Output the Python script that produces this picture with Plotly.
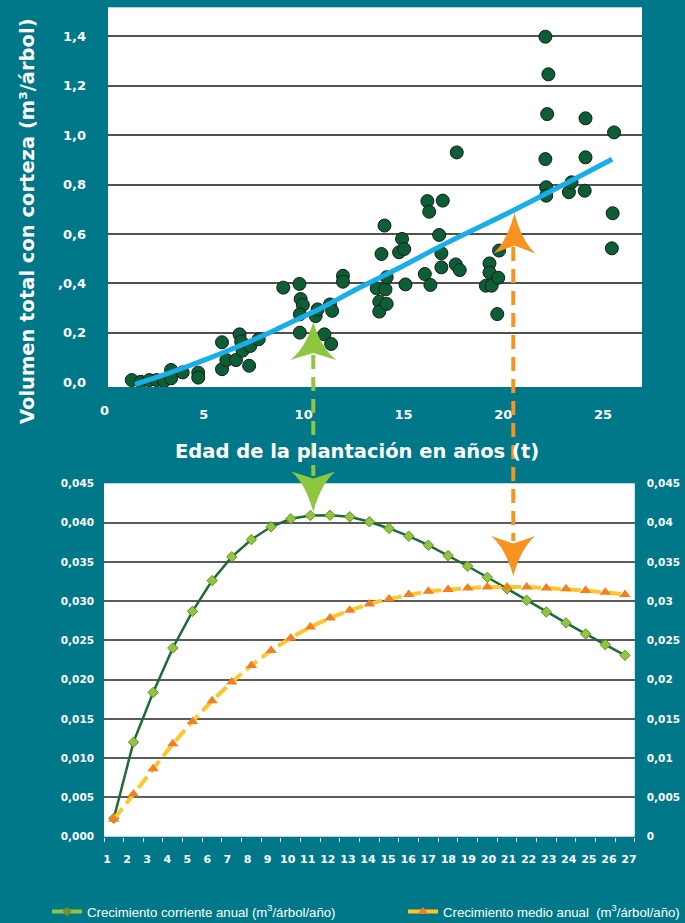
import plotly.graph_objects as go

W, H = 685, 923
BG = '#00788A'
WHITE = '#FFFFFF'
GRID = '#5C5C5C'
FONT_B = 'DejaVu Sans'

# ---------------- Top chart data (volume vs age) ----------------
edad = [1.39, 1.84, 2.27, 2.64, 3.01, 3.36, 3.36, 3.94, 4.72, 4.72,
        5.91, 5.91, 6.13, 6.61, 6.79, 6.87, 6.94, 7.27, 7.33, 7.75,
        8.98, 9.79, 9.85, 9.96, 9.81, 9.81, 10.60, 10.70, 11.04, 11.38,
        11.32, 11.43, 11.97, 11.97, 13.66, 13.79, 13.79, 13.90, 14.05, 14.10,
        14.16, 14.16, 14.78, 14.93, 15.04, 15.10, 16.07, 16.20, 16.29, 16.35,
        16.79, 16.90, 16.90, 16.97, 17.62, 17.67, 17.82, 19.13, 19.31, 19.31,
        19.42, 19.70, 19.75, 19.79, 22.11, 22.26, 22.20, 22.11, 22.15, 22.15,
        23.29, 23.42, 24.12, 24.12, 24.08, 25.55, 25.48, 25.44]
volumen = [0.009, 0.002, 0.009, 0.009, 0.005, 0.050, 0.016, 0.040, 0.039, 0.019,
           0.162, 0.053, 0.090, 0.090, 0.194, 0.165, 0.128, 0.067, 0.147, 0.174,
           0.383, 0.398, 0.337, 0.313, 0.275, 0.201, 0.268, 0.295, 0.194, 0.155,
           0.315, 0.289, 0.431, 0.407, 0.380, 0.326, 0.286, 0.519, 0.634, 0.376,
           0.425, 0.317, 0.526, 0.580, 0.539, 0.396, 0.438, 0.733, 0.690, 0.394,
           0.596, 0.522, 0.465, 0.735, 0.477, 0.930, 0.454, 0.391, 0.481, 0.444,
           0.391, 0.276, 0.423, 0.533, 1.398, 1.246, 1.085, 0.903, 0.789, 0.755,
           0.769, 0.809, 1.068, 0.910, 0.775, 1.011, 0.684, 0.542]
trend_x = [1.55, 3.0, 4.3, 5.5, 6.8, 8.0, 9.3, 11.0, 12.5, 14.6, 17.2, 20.5, 23.4, 25.45]
trend_y = [-0.008, 0.030, 0.068, 0.105, 0.148, 0.190, 0.240, 0.305, 0.370, 0.455, 0.565, 0.695, 0.815, 0.902]

top_xticks = [0, 5, 10, 15, 20, 25]
top_yticks = [0.0, 0.2, 0.4, 0.6, 0.8, 1.0, 1.2, 1.4]
top_ylabels = ['0,0', '0,2', ',0,4', '0,6', '0,8', '1,0', '1,2', '1,4']

# ---------------- Bottom chart data (growth) ----------------
anios = list(range(1, 28))
cca = [0.00235, 0.01204, 0.01837, 0.02403, 0.02870, 0.03261, 0.03564, 0.03784, 0.03946, 0.04048,
       0.04090, 0.04094, 0.04074, 0.04010, 0.03925, 0.03827, 0.03712, 0.03580, 0.03444, 0.03304,
       0.03156, 0.03010, 0.02862, 0.02722, 0.02582, 0.02445, 0.02309]
cma = [0.00222, 0.00545, 0.00864, 0.01182, 0.01467, 0.01731, 0.01969, 0.02181, 0.02372, 0.02531,
       0.02671, 0.02786, 0.02883, 0.02964, 0.03028, 0.03083, 0.03125, 0.03147, 0.03168, 0.03181,
       0.03181, 0.03181, 0.03168, 0.03156, 0.03134, 0.03112, 0.03083]
bot_yticks = [0, 0.005, 0.01, 0.015, 0.02, 0.025, 0.03, 0.035, 0.04, 0.045]
bot_left_labels = ['0,000', '0,005', '0,010', '0,015', '0,020', '0,025', '0,030', '0,035', '0,040', '0,045']
bot_right_labels = ['0', '0,005', '0,01', '0,015', '0,02', '0,025', '0,03', '0,035', '0,04', '0,045']

name_cca = 'Crecimiento corriente anual (m<sup>3</sup>/árbol/año)'
name_cma = 'Crecimiento medio anual \u00a0(m<sup>3</sup>/árbol/año)'

fig = go.Figure()

# top chart
fig.add_trace(go.Scatter(x=edad, y=volumen, mode='markers', xaxis='x', yaxis='y',
                         marker=dict(size=13, color='#0C5F34', line=dict(color='#1B1B1B', width=1)),
                         showlegend=False))
fig.add_trace(go.Scatter(x=trend_x, y=trend_y, mode='lines', xaxis='x', yaxis='y',
                         line=dict(color='#17AEE9', width=5, shape='spline'), showlegend=False))

# bottom chart
fig.add_trace(go.Scatter(x=anios, y=cma, mode='lines+markers', xaxis='x2', yaxis='y3',
                         line=dict(color='#FFC629', width=4, dash='14px,6px'),
                         marker=dict(symbol='triangle-up', size=10, color='#F47F20'),
                         showlegend=False))
fig.add_trace(go.Scatter(x=anios, y=cca, mode='lines+markers', xaxis='x2', yaxis='y2',
                         line=dict(color='#1C6A36', width=2.5),
                         marker=dict(symbol='diamond', size=8, color='#8DC63F',
                                     line=dict(color='#6E8B2A', width=1)),
                         showlegend=False))

# legend entries (also carry the category-label axis x3)
fig.add_trace(go.Scatter(x=[None], y=[None], mode='lines+markers', xaxis='x3', yaxis='y2',
                         name=name_cca, line=dict(color='#8DC63F', width=4), legend='legend',
                         marker=dict(symbol='diamond', size=7, color='#7A8F2A')))
fig.add_trace(go.Scatter(x=[None], y=[None], mode='lines+markers', xaxis='x3', yaxis='y2',
                         name=name_cma, line=dict(color='#FFC629', width=4), legend='legend2',
                         marker=dict(symbol='triangle-up', size=9, color='#F47F20')))

tick_font_top = dict(family=FONT_B, size=13, color=WHITE, weight='bold')
tick_font_bot = dict(family=FONT_B, size=10.5, color=WHITE, weight='bold')
legend_font = dict(family='Liberation Sans', size=13.2, color=WHITE)

fig.update_layout(
    width=W, height=H, autosize=False,
    margin=dict(l=0, r=0, t=0, b=0, autoexpand=False),
    paper_bgcolor=BG, plot_bgcolor=WHITE,
    xaxis=dict(domain=[108 / W, 642 / W], range=[0.2, 26.95], anchor='y',
               tickvals=top_xticks, ticktext=[str(v) for v in top_xticks],
               showgrid=False, zeroline=False, showline=False, ticks='',
               tickfont=tick_font_top, ticklabelstandoff=18),
    yaxis=dict(domain=[1 - 387 / H, 1 - 7.3 / H], range=[-0.019, 1.517], anchor='x',
               tickvals=top_yticks, ticktext=top_ylabels,
               showgrid=False, zeroline=False, showline=False, ticks='',
               tickfont=tick_font_top, ticklabelstandoff=21,
               minor=dict(tickvals=top_yticks[1:], showgrid=True, gridcolor='#505050',
                          gridwidth=1.6, ticks='')),
    xaxis2=dict(domain=[104 / W, 634.8 / W], range=[0.5, 27.5], anchor='y2',
                showticklabels=False,
                showgrid=False, zeroline=False, showline=False, ticks='',
                minor=dict(tick0=0.5, dtick=1, ticks='outside', ticklen=4,
                           tickcolor=WHITE, tickwidth=1, showgrid=False)),
    xaxis3=dict(domain=[104 / W, 634.8 / W], range=[0.851, 27.29], anchor='y2',
                overlaying='x2',
                tickvals=anios, ticktext=[str(a) for a in anios],
                showgrid=False, zeroline=False, showline=False, ticks='',
                tickfont=dict(family=FONT_B, size=11, color=WHITE, weight='bold'),
                ticklabelstandoff=14),
    yaxis2=dict(domain=[1 - 836.7 / H, 1 - 483.3 / H], range=[0, 0.045], anchor='x2',
                tickvals=bot_yticks, ticktext=bot_left_labels,
                showgrid=True, gridcolor=GRID, gridwidth=2, zeroline=False,
                showline=False, ticks='', tickfont=tick_font_bot, ticklabelstandoff=9),
    yaxis3=dict(range=[0, 0.045], overlaying='y2', side='right', anchor='x2',
                tickvals=bot_yticks, ticktext=bot_right_labels,
                showgrid=False, zeroline=False, showline=False, ticks='',
                tickfont=tick_font_bot, ticklabelstandoff=11),
    legend=dict(orientation='h', x=47 / W, y=1 - 912 / H, xanchor='left', yanchor='middle',
                bgcolor='rgba(0,0,0,0)', font=legend_font, itemwidth=30),
    legend2=dict(orientation='h', x=403 / W, y=1 - 912 / H, xanchor='left', yanchor='middle',
                 bgcolor='rgba(0,0,0,0)', font=legend_font, itemwidth=30),
    showlegend=True,
)


def P(x, y):
    return f'{x / W:.5f},{1 - y / H:.5f}'


def arrow_up(cx, tip, back, notch, half, color):
    path = (f'M{P(cx, tip)} Q{P(cx - half * 0.35, back - (back - tip) * 0.3)} {P(cx - half, back)} '
            f'L{P(cx, notch)} L{P(cx + half, back)} '
            f'Q{P(cx + half * 0.35, back - (back - tip) * 0.3)} {P(cx, tip)} Z')
    return dict(type='path', xref='paper', yref='paper', path=path,
                fillcolor=color, line=dict(width=0), layer='above')


def arrow_down(cx, tip, back, notch, half, color):
    path = (f'M{P(cx, tip)} Q{P(cx - half * 0.35, back + (tip - back) * 0.3)} {P(cx - half, back)} '
            f'L{P(cx, notch)} L{P(cx + half, back)} '
            f'Q{P(cx + half * 0.35, back + (tip - back) * 0.3)} {P(cx, tip)} Z')
    return dict(type='path', xref='paper', yref='paper', path=path,
                fillcolor=color, line=dict(width=0), layer='above')


GREEN_A = '#8DC63F'
ORANGE_A = '#F7931E'
shapes = [
    dict(type='line', xref='paper', yref='paper', x0=313.3 / W, x1=313.3 / W,
         y0=1 - 355 / H, y1=1 - 476 / H, line=dict(color=GREEN_A, width=4, dash='14px,8px'),
         layer='above'),
    dict(type='line', xref='paper', yref='paper', x0=513.3 / W, x1=513.3 / W,
         y0=1 - 247 / H, y1=1 - 541 / H, line=dict(color=ORANGE_A, width=4, dash='14px,8px'),
         layer='above'),
    arrow_up(313.3, 322, 360, 353, 23, GREEN_A),
    arrow_down(313.3, 512, 471.5, 478.5, 22, GREEN_A),
    arrow_up(514.5, 213, 253.5, 245.5, 21, ORANGE_A),
    arrow_down(513.3, 576, 536, 543.5, 22, ORANGE_A),
]
fig.update_layout(shapes=shapes)

fig.add_annotation(xref='paper', yref='paper', x=27 / W, y=1 - 221 / H, textangle=-90,
                   xanchor='center', yanchor='middle',
                   text='Volumen total con corteza (m³/árbol)', showarrow=False,
                   font=dict(family=FONT_B, size=19.5, color=WHITE, weight='bold'))
fig.add_annotation(xref='paper', yref='paper', x=357 / W, y=1 - 451 / H,
                   xanchor='center', yanchor='middle',
                   text='Edad de la plantación en años (t)', showarrow=False,
                   font=dict(family=FONT_B, size=19.5, color=WHITE, weight='bold'))
# the "0" tick label of the top age axis sits just left of the plotting area
fig.add_annotation(xref='paper', yref='paper', x=104 / W, y=1 - 411 / H,
                   xanchor='center', yanchor='middle', text='0', showarrow=False,
                   font=tick_font_top)

fig.write_html('out.html', config={'displayModeBar': False, 'responsive': False},
               post_script="document.body.style.margin='0';document.body.style.overflow='hidden';")
